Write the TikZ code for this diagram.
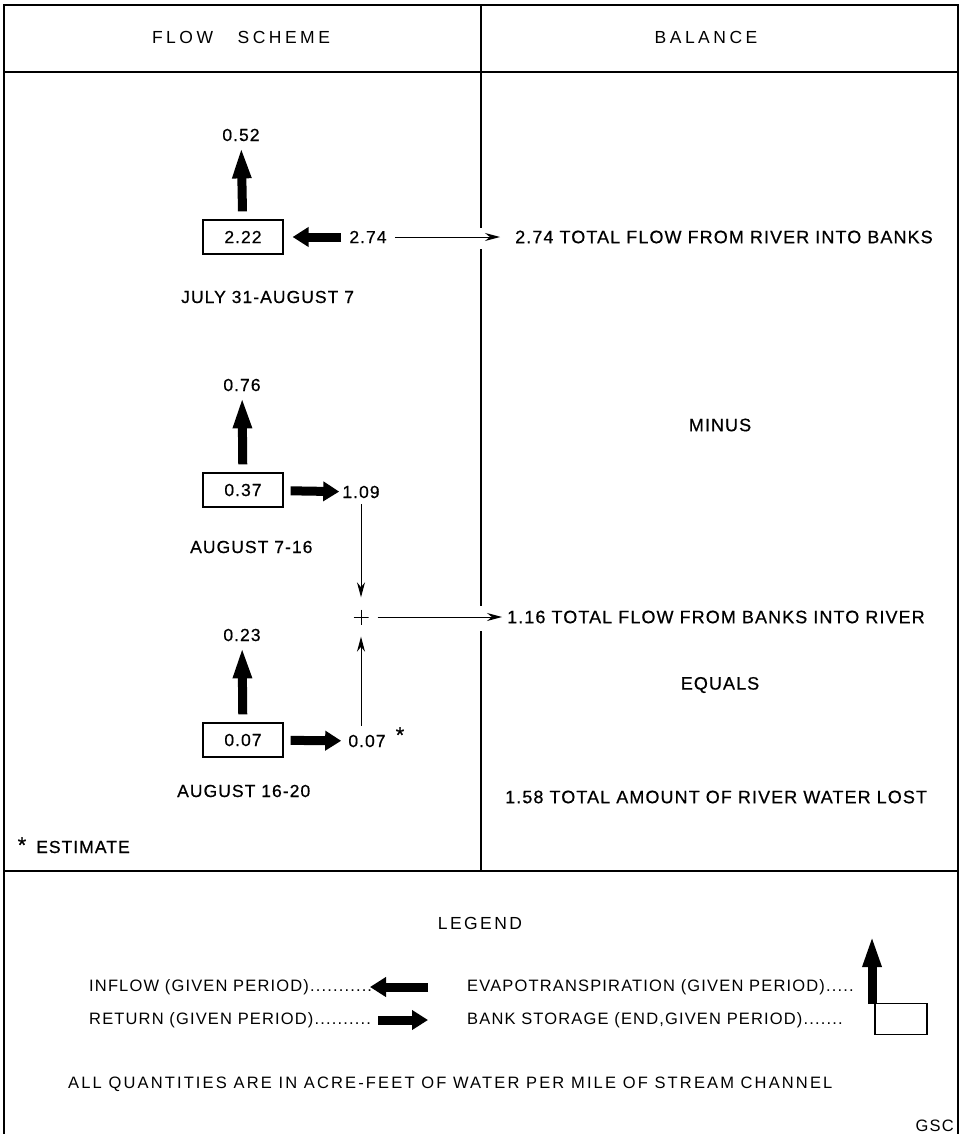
\documentclass[tikz,border=0pt]{standalone}
\usepackage{fontspec}
\setmainfont{Liberation Sans}
\newfontfamily\widefont[LetterSpace=6,FakeBold=0.6]{Liberation Sans}
\newfontfamily\legfont[LetterSpace=7]{Liberation Sans}
\newfontfamily\headfont[LetterSpace=20]{Liberation Sans}
\newfontfamily\allfont[LetterSpace=13]{Liberation Sans}
\usetikzlibrary{arrows.meta}
\tikzset{
  wtxt/.style={font=\widefont\fontsize{17.5}{18}\selectfont, inner sep=0pt},
  btxt/.style={font=\widefont\fontsize{18}{18}\selectfont, inner sep=0pt},
  ltxt/.style={font=\legfont\fontsize{16.5}{18}\selectfont, inner sep=0pt},
  htxt/.style={font=\headfont\fontsize{17.5}{18}\selectfont, inner sep=0pt},
  framel/.style={line width=1.5pt},
  storebox/.style={draw, line width=1.2pt, minimum width=80pt, minimum height=34pt, inner sep=0pt, wtxt},
  bigup/.style={line width=9pt, -{Triangle[length=32pt, width=17pt]}},
  bigh/.style={line width=9pt, -{Triangle[length=16pt, width=19pt]}},
  thinarr/.style={line width=1pt, -{Stealth[length=15pt, width=8pt]}},
  plusnode/.style={minimum size=15pt, inner sep=0pt,
    path picture={\draw[line width=1pt] (path picture bounding box.north) -- (path picture bounding box.south)
      (path picture bounding box.west) -- (path picture bounding box.east);}}
}
\begin{document}
\begin{tikzpicture}[x=1pt,y=-1pt]
\useasboundingbox (0,0) rectangle (961,1134);
% frame
\draw[framel] (4,1134) -- (4,5) -- (958,5) -- (958,1134);
\draw[framel] (4,72) -- (958,72);
\draw[framel] (4,871) -- (958,871);
\draw[framel] (481,5) -- (481,228) (481,249) -- (481,606) (481,631) -- (481,871);
% headers
\node[htxt] (h1) at (241,37) {FLOW\hspace{1.4em}SCHEME};
\node[htxt] (h2) at (706,37) {BALANCE};
% group 1
\node[storebox] (b1) at (243,237) {2.22};
\node[wtxt] (e1) at (241,135) {0.52};
\node[wtxt] (i1) at (368,237) {2.74};
\node[wtxt, anchor=west] (d1) at (181,297) {JULY 31-AUGUST 7};
\draw[bigup, shorten <=8pt, shorten >=5pt] (b1) -- (e1);
\draw[bigh, shorten <=8pt, shorten >=9pt] (i1) -- (b1);
% group 2
\node[storebox] (b2) at (243,490) {0.37};
\node[wtxt] (e2) at (242,385) {0.76};
\node[wtxt] (r2) at (361,492) {1.09};
\node[wtxt, anchor=west] (d2) at (190,547) {AUGUST 7-16};
\draw[bigup, shorten <=8pt, shorten >=5pt] (b2) -- (e2);
\draw[bigh, shorten <=7pt, shorten >=3pt] (b2) -- (r2);
% plus
\node[plusnode] (plus) at (361,617) {};
% group 3
\node[storebox] (b3) at (243,740) {0.07};
\node[wtxt] (e3) at (242,635) {0.23};
\node[wtxt] (r3) at (367,741) {0.07};
\node[wtxt, font=\widefont\fontsize{22}{22}\selectfont] (star) at (400,735) {*};
\node[wtxt, anchor=west] (d3) at (177,791) {AUGUST 16-20};
\draw[bigup, shorten <=8pt, shorten >=5pt] (b3) -- (e3);
\draw[bigh, shorten <=7pt, shorten >=7pt] (b3) -- (r3);
% balance
\node[btxt, anchor=west] (t1) at (515,237) {2.74 TOTAL FLOW FROM RIVER INTO BANKS};
\node[btxt] (minus) at (720,425) {MINUS};
\node[btxt, anchor=west] (t2) at (507,617) {1.16 TOTAL FLOW FROM BANKS INTO RIVER};
\node[btxt] (equals) at (720,685) {EQUALS};
\node[btxt, anchor=west] (t3) at (505,797) {1.58 TOTAL AMOUNT OF RIVER WATER LOST};
% thin connectors
\draw[thinarr, shorten <=8pt, shorten >=15pt] (i1) -- (t1.west);
\draw[thinarr, shorten <=6pt, shorten >=12pt] (r2) -- (plus);
\draw[thinarr, shorten <=9pt, shorten >=12pt] (r3.north -| plus) -- (plus);
\draw[thinarr, shorten <=9pt, shorten >=5pt] (plus) -- (t2);
% estimate
\node[wtxt, font=\widefont\fontsize{22}{22}\selectfont] (estar) at (22,845) {*};
\node[wtxt, anchor=west] (est) at (36,847) {ESTIMATE};
% legend
\node[font=\legfont\fontsize{17.5}{18}\selectfont\addfontfeature{LetterSpace=14}, inner sep=0pt] (leg) at (480,923) {LEGEND};
\node[ltxt, anchor=west] (l1) at (89,987) {INFLOW (GIVEN PERIOD)...........};
\node[ltxt, anchor=west] (l2) at (89,1020) {RETURN (GIVEN PERIOD)..........};
\node[ltxt, anchor=west] (l3) at (467,987) {EVAPOTRANSPIRATION (GIVEN PERIOD).....};
\node[ltxt, anchor=west] (l4) at (467,1020) {BANK STORAGE (END,GIVEN PERIOD).......};
\draw[bigh] (428,987) -- (370,987);
\draw[bigh] (378,1020) -- (428,1020);
\draw[bigup] (872,1004) -- (872,935);
\node[draw, line width=1.2pt, minimum width=52pt, minimum height=31pt, inner sep=0pt] (lbox) at (901,1019) {};
\node[anchor=west, inner sep=0pt, font=\allfont\fontsize{16.5}{18}\selectfont] (all) at (68,1084) {ALL QUANTITIES ARE IN ACRE-FEET OF WATER PER MILE OF STREAM\hspace{0.4em}CHANNEL};
\node[ltxt, anchor=east] (gsc) at (954,1126) {GSC};
\end{tikzpicture}
\end{document}
